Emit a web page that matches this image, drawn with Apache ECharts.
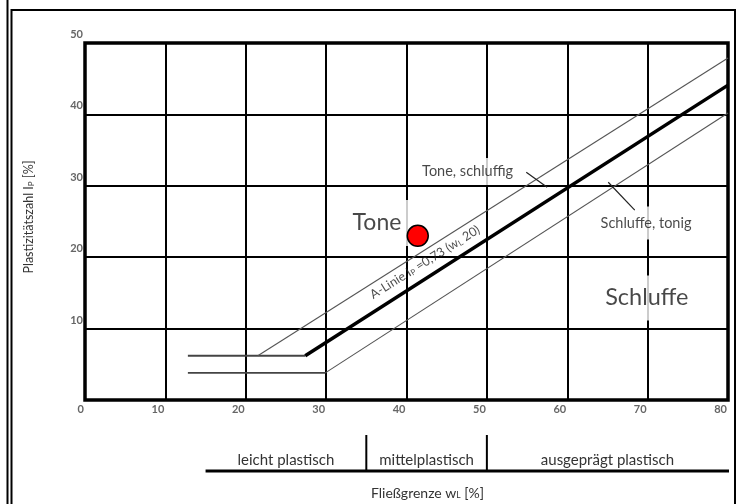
<!DOCTYPE html>
<html>
<head>
<meta charset="utf-8">
<script src="https://cdn.jsdelivr.net/npm/echarts@6/dist/echarts.min.js"></script>
<style>
  html, body { margin: 0; padding: 0; background: #fff; }
  #chart { width: 737px; height: 504px; }
</style>
</head>
<body>
<div id="chart"></div>
<script>
// Plastizitätsdiagramm nach Casagrande (DIN 18196)
const FONT = 'Lato, "Open Sans", sans-serif';

// boundary lines [Fließgrenze wL, Plastizitätszahl Ip]
const aLine      = [[27.4, 6.2], [80, 44.1]];
const upperFoot  = [[12.8, 6.2], [27.4, 6.2]];
const upperLine  = [[21.5, 6.2], [80, 47.9]];
const lowerFoot  = [[12.8, 3.8], [29.9, 3.8]];
const lowerLine  = [[29.9, 3.8], [80, 40.2]];

// sample point
const sample = [[41.4, 23.0]];

// leader lines for the transition zones
const leaderToneSchluffig = [[54.9, 31.9], [57.5, 29.8]];
const leaderSchluffeTonig = [[65.1, 30.5], [68.4, 26.6]];

// region names and their anchors in the diagram
const regionNames   = ['Tone', 'Tone, schluffig', 'Schluffe, tonig', 'Schluffe'];
const regionAnchors = [[36.7, 24.8], [47.6, 32.0], [69.8, 24.8], [69.9, 14.3]];
const aLineAnchor   = [42.3, 19.3];

// plasticity classes along the liquid limit
const plasticRange  = [15, 80];
const plasticBounds = [35, 50];
const plasticNames  = ['leicht plastisch', 'mittelplastisch', 'ausgeprägt plastisch'];

const chart = echarts.init(document.getElementById('chart'), null, { renderer: 'canvas' });

function lineSeries(data, color, width, z) {
  return {
    type: 'line', data: data, showSymbol: false, silent: true, z: z,
    lineStyle: { color: color, width: width }, animation: false
  };
}

const regionStyles = [
  { fontSize: 23, padding: [12, 8, 11, 2] },
  { fontSize: 14.5, padding: [10, 4, 2, 4] },
  { fontSize: 14.5, padding: [12, 3, 6, 3] },
  { fontSize: 23.5, padding: [13, 3, 8, 3] }
];

const option = {
  animation: false,
  backgroundColor: '#fff',
  grid: {
    left: 85, top: 43, width: 643, height: 357,
    show: true, borderColor: '#000', borderWidth: 3.5, backgroundColor: 'transparent'
  },
  xAxis: {
    type: 'value', min: 0, max: 80, interval: 10,
    axisLine: { show: false }, axisTick: { show: false },
    splitLine: { show: true, lineStyle: { color: '#000', width: 2 } },
    axisLabel: {
      color: '#666', fontSize: 11, fontFamily: FONT, fontWeight: 'bold',
      align: 'right', margin: 4, padding: [0, 1, 0, 0]
    }
  },
  yAxis: {
    type: 'value', min: 0, max: 50, interval: 10,
    axisLine: { show: false }, axisTick: { show: false },
    splitLine: { show: true, lineStyle: { color: '#000', width: 2 } },
    axisLabel: {
      color: '#666', fontSize: 11, fontFamily: FONT, fontWeight: 'bold',
      showMinLabel: false, verticalAlign: 'bottom', margin: 2, padding: [0, 0, 3, 0]
    }
  },
  series: [
    // region labels with white boxes that interrupt the grid
    {
      type: 'scatter', symbolSize: 0, silent: true, z: 1,
      data: regionNames.map(function (n, i) {
        return {
          value: regionAnchors[i], name: n,
          label: {
            show: true, position: 'inside', formatter: n,
            fontFamily: FONT, color: '#1a1a1a',
            fontSize: regionStyles[i].fontSize,
            backgroundColor: '#fff', padding: regionStyles[i].padding
          }
        };
      })
    },
    lineSeries(upperFoot, '#444', 1.8, 3),
    lineSeries(lowerFoot, '#444', 1.8, 3),
    lineSeries(upperLine, '#555', 1.1, 3),
    lineSeries(lowerLine, '#555', 1.1, 3),
    lineSeries(aLine, '#000', 3.5, 4),
    lineSeries(leaderToneSchluffig, '#222', 1.2, 4),
    lineSeries(leaderSchluffeTonig, '#222', 1.2, 4),
    // A-line caption
    {
      type: 'scatter', symbolSize: 0, silent: true, z: 5,
      data: [{
        value: aLineAnchor,
        label: {
          show: true, position: 'inside', rotate: 32,
          formatter: 'A-Linie I{s|P} =0,73 (w{s|L} 20)',
          fontFamily: FONT, fontSize: 12.5, color: '#222',
          rich: { s: { fontSize: 8, fontFamily: FONT, color: '#222', verticalAlign: 'bottom' } }
        }
      }]
    },
    // sample
    {
      type: 'scatter', data: sample, symbolSize: 21, silent: true, z: 6,
      itemStyle: { color: '#ff0000', borderColor: '#000', borderWidth: 1.5, opacity: 1 }
    }
  ]
};

chart.setOption(option);

// frame, axis title and plasticity classes beneath the diagram
function px(wl) { return chart.convertToPixel({ xAxisIndex: 0 }, wl); }

const barY = 471, tickTop = 435, classY = 460, titleY = 493;
const graphics = [
  { type: 'line', shape: { x1: 7.5, y1: 0, x2: 7.5, y2: 504 }, style: { stroke: '#000', lineWidth: 2 } },
  { type: 'polyline', shape: { points: [[11.5, 504], [11.5, 10], [735, 10], [735, 504]] },
    style: { stroke: '#000', lineWidth: 2, fill: null } },
  { type: 'line', shape: { x1: px(plasticRange[0]), y1: barY, x2: px(plasticRange[1]) + 1, y2: barY },
    style: { stroke: '#000', lineWidth: 3 } }
];
plasticBounds.forEach(function (b) {
  graphics.push({ type: 'line', shape: { x1: px(b), y1: tickTop, x2: px(b), y2: barY },
    style: { stroke: '#000', lineWidth: 2 } });
});
const edges = [plasticRange[0]].concat(plasticBounds, [plasticRange[1]]);
plasticNames.forEach(function (n, i) {
  graphics.push({
    type: 'text', x: (px(edges[i]) + px(edges[i + 1])) / 2, y: classY,
    style: { text: n, font: '15px ' + FONT, fill: '#333', align: 'center', verticalAlign: 'middle' }
  });
});
graphics.push({
  type: 'text', x: (px(0) + px(80)) / 2 + 21, y: titleY,
  style: {
    text: 'Fließgrenze w{s|L} [%]', fontFamily: FONT, fontSize: 14, fill: '#333',
    align: 'center', verticalAlign: 'middle',
    rich: { s: { fontSize: 8.5, fontFamily: FONT, fill: '#333', verticalAlign: 'bottom' } }
  }
});
graphics.push({
  type: 'text', x: 29, y: 217, rotation: Math.PI / 2,
  style: {
    text: 'Plastizitätszahl I{s|P} [%]', fontFamily: FONT, fontSize: 12.5, fill: '#333',
    align: 'center', verticalAlign: 'middle',
    rich: { s: { fontSize: 8, fontFamily: FONT, fill: '#333', verticalAlign: 'bottom' } }
  }
});
chart.setOption({ graphic: graphics });
</script>
</body>
</html>
